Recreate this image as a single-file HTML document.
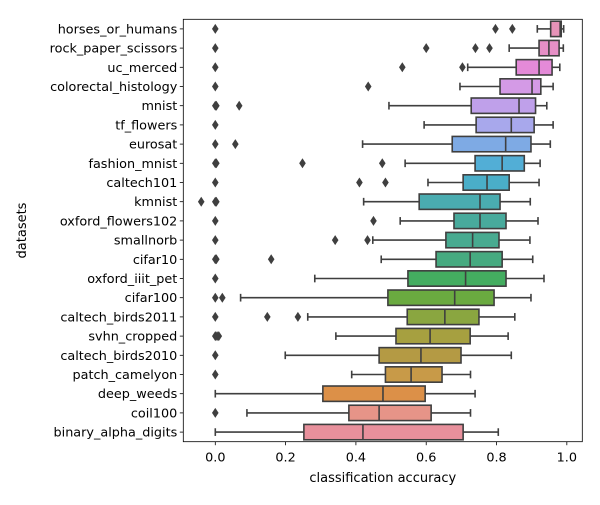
<!DOCTYPE html>
<html><head><meta charset="utf-8"><style>
html,body{margin:0;padding:0;background:#fff;}
svg text{font-family:"DejaVu Sans","Liberation Sans",sans-serif;fill:#000;}
</style></head><body>
<svg id="chart" width="600" height="500" viewBox="0 0 600 500" xmlns="http://www.w3.org/2000/svg">
<rect x="0" y="0" width="600" height="500" fill="#fff"/>
<g id="marks"></g>
<g id="axes"></g>
</svg>
<script>
const categories = ["horses_or_humans","rock_paper_scissors","uc_merced","colorectal_histology","mnist","tf_flowers","eurosat","fashion_mnist","caltech101","kmnist","oxford_flowers102","smallnorb","cifar10","oxford_iiit_pet","cifar100","caltech_birds2011","svhn_cropped","caltech_birds2010","patch_camelyon","deep_weeds","coil100","binary_alpha_digits"];
const whiskerLow = [0.916,0.836,0.718,0.696,0.494,0.594,0.419,0.540,0.605,0.422,0.526,0.448,0.472,0.283,0.072,0.263,0.343,0.199,0.388,0.0,0.090,0.0];
const q1 = [0.954,0.921,0.856,0.810,0.728,0.742,0.674,0.739,0.705,0.580,0.679,0.656,0.628,0.548,0.491,0.546,0.514,0.466,0.484,0.306,0.380,0.252];
const medians = [0.981,0.949,0.921,0.901,0.864,0.842,0.826,0.816,0.773,0.753,0.753,0.732,0.725,0.712,0.681,0.653,0.611,0.585,0.557,0.477,0.466,0.420];
const q3 = [0.984,0.978,0.958,0.926,0.911,0.907,0.898,0.879,0.836,0.810,0.827,0.807,0.816,0.827,0.793,0.750,0.725,0.699,0.645,0.597,0.614,0.705];
const whiskerHigh = [0.991,0.990,0.980,0.961,0.943,0.961,0.953,0.924,0.921,0.896,0.918,0.895,0.903,0.935,0.898,0.852,0.833,0.842,0.726,0.739,0.726,0.805];
const outliers = [[0,0.797,0.845],[0,0.60,0.74,0.78],[0,0.532,0.703],[0,0.435],[0,0.003,0.068],[0],[0,0.057],[0,0.003,0.248,0.475],[0,0.41,0.484],[0,0.003,-0.04],[0,0.45],[0,0.341,0.433],[0,0.003,0.159],[0],[0,0.02],[0,0.148,0.235],[0,0.005,0.01],[0],[0],[],[0],[]];
const boxColors = ["#e693b8","#e68fc6","#e48ad8","#d49ae6","#bfa0ea","#a8a8ec","#7eaae4","#52aed6","#4aaec8","#4aacb0","#48aa9c","#48aa90","#46aa80","#44ad60","#6aaa40","#8aa640","#a6a040","#b49a44","#c89a48","#dc9048","#e69488","#e8909c"];
const xTicks = [0.0,0.2,0.4,0.6,0.8,1.0];
const xTickLabels = ["0.0","0.2","0.4","0.6","0.8","1.0"];

const NS="http://www.w3.org/2000/svg";
const L=183.3,R=582.3,T=19.3,B=441.7;
const xMin=-0.091,xMax=1.044;
function xs(v){return L+(v-xMin)/(xMax-xMin)*(R-L);}
function ys(i){return T+(i+0.5)*(B-T)/categories.length;}
const bandH=(B-T)/categories.length;
function mk(tag,attrs,parent){const e=document.createElementNS(NS,tag);for(const k in attrs)e.setAttribute(k,attrs[k]);parent.appendChild(e);return e;}
const marks=document.getElementById('marks'), axes=document.getElementById('axes');
const gray="#3f3f3f";
categories.forEach((c,i)=>{
  const y=ys(i), h=bandH*0.8, g=mk('g',{},marks);
  
  
  const cap=h*0.5;
  mk('line',{x1:xs(whiskerLow[i]),x2:xs(q1[i]),y1:y,y2:y,stroke:gray,'stroke-width':1.6},g);
  mk('line',{x1:xs(q3[i]),x2:xs(whiskerHigh[i]),y1:y,y2:y,stroke:gray,'stroke-width':1.6},g);
  mk('line',{x1:xs(whiskerLow[i]),x2:xs(whiskerLow[i]),y1:y-cap/2,y2:y+cap/2,stroke:gray,'stroke-width':1.6},g);
  mk('line',{x1:xs(whiskerHigh[i]),x2:xs(whiskerHigh[i]),y1:y-cap/2,y2:y+cap/2,stroke:gray,'stroke-width':1.6},g);
  mk('rect',{x:xs(q1[i]),y:y-h/2,width:xs(q3[i])-xs(q1[i]),height:h,fill:boxColors[i],stroke:gray,'stroke-width':1.6},g);
  mk('line',{x1:xs(medians[i]),x2:xs(medians[i]),y1:y-h/2,y2:y+h/2,stroke:gray,'stroke-width':1.6},g);
  outliers[i].forEach(v=>{
    const x=xs(v);
    const d=mk('path',{d:`M${x},${y-5} L${x+3.3},${y} L${x},${y+5} L${x-3.3},${y} Z`,fill:gray},g);
    
    
  });
  mk('line',{x1:L-3.5,x2:L,y1:y,y2:y,stroke:'#000','stroke-width':0.8},axes);
  const t=mk('text',{x:L-6,y:y+4.5,'text-anchor':'end','font-size':12.8},axes);
  t.textContent=c;
  
  
});
xTicks.forEach((v,j)=>{
  const x=xs(v);
  mk('line',{x1:x,x2:x,y1:B,y2:B+3.5,stroke:'#000','stroke-width':0.8},axes);
  const t=mk('text',{x:x,y:B+20,'text-anchor':'middle','font-size':12.8},axes);
  t.textContent=xTickLabels[j];
  
  
});
const frame=mk('rect',{x:L,y:T,width:R-L,height:B-T,fill:'none',stroke:'#000','stroke-width':0.8},axes);


const xt=mk('text',{x:(L+R)/2,y:482,'text-anchor':'middle','font-size':13},axes);
xt.textContent='classification accuracy';


const yt=mk('text',{x:26,y:(T+B)/2,'text-anchor':'middle','font-size':13,transform:`rotate(-90 26 ${(T+B)/2})`},axes);
yt.textContent='datasets';


</script>
</body></html>
